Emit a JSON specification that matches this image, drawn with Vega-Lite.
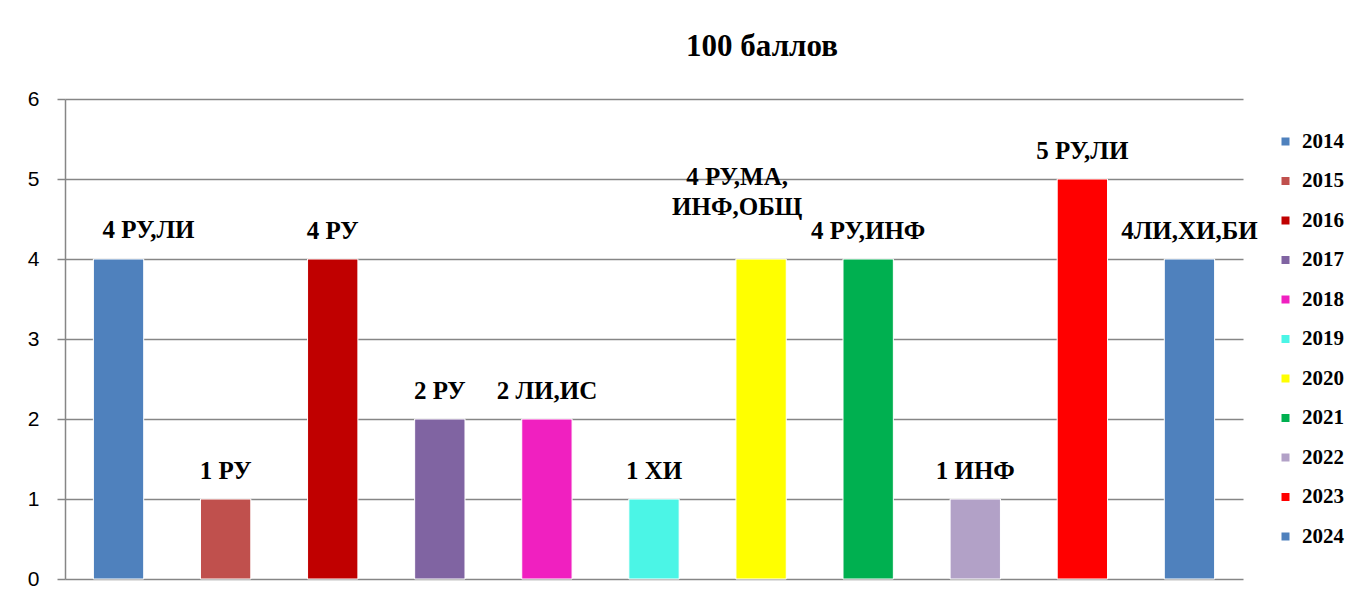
{
  "$schema": "https://vega.github.io/schema/vega-lite/v6.json",
  "autosize": "none",
  "width": 1178,
  "height": 480,
  "padding": {"left": 65, "top": 99, "right": 113, "bottom": 24},
  "background": "white",
  "title": {
    "text": "100 баллов",
    "font": "Liberation Serif, Times New Roman, serif",
    "fontSize": 31,
    "fontWeight": "bold",
    "color": "#000000",
    "anchor": "middle",
    "dx": 108,
    "offset": 25
  },
  "data": {
    "values": [
      {"year": "2014", "value": 4, "label": "4 РУ,ЛИ"},
      {"year": "2015", "value": 1, "label": "1 РУ"},
      {"year": "2016", "value": 4, "label": "4 РУ"},
      {"year": "2017", "value": 2, "label": "2 РУ"},
      {"year": "2018", "value": 2, "label": "2 ЛИ,ИС"},
      {"year": "2019", "value": 1, "label": "1 ХИ"},
      {"year": "2020", "value": 4, "label": "4 РУ,МА,\nИНФ,ОБЩ"},
      {"year": "2021", "value": 4, "label": "4 РУ,ИНФ"},
      {"year": "2022", "value": 1, "label": "1 ИНФ"},
      {"year": "2023", "value": 5, "label": "5 РУ,ЛИ"},
      {"year": "2024", "value": 4, "label": "4ЛИ,ХИ,БИ"}
    ]
  },
  "encoding": {
    "x": {
      "field": "year",
      "type": "nominal",
      "scale": {"paddingInner": 0.53, "paddingOuter": 0.265},
      "axis": null
    },
    "y": {
      "field": "value",
      "type": "quantitative",
      "scale": {"domain": [0, 6], "nice": false},
      "axis": {
        "title": null,
        "values": [0, 1, 2, 3, 4, 5, 6],
        "labelFont": "Liberation Sans, Arial, sans-serif",
        "labelFontSize": 21,
        "labelColor": "#000000",
        "labelPadding": 18,
        "tickSize": 8,
        "tickColor": "#868686",
        "tickWidth": 1.5,
        "domainColor": "#868686",
        "domainWidth": 1.5,
        "gridColor": "#868686",
        "gridWidth": 1.5,
        "grid": true
      }
    }
  },
  "layer": [
    {
      "mark": {"type": "bar", "stroke": "white", "strokeWidth": 1},
      "encoding": {
        "color": {
          "field": "year",
          "type": "nominal",
          "scale": {
            "domain": ["2014", "2015", "2016", "2017", "2018", "2019", "2020", "2021", "2022", "2023", "2024"],
            "range": ["#4F81BD", "#C0504D", "#C00000", "#8064A2", "#F020C0", "#4BF5E6", "#FFFF00", "#00B050", "#B2A1C7", "#FF0000", "#4F81BD"]
          },
          "legend": {
            "title": null,
            "orient": "none",
            "legendX": 1210,
            "legendY": 32,
            "symbolType": "square",
            "symbolSize": 64,
            "symbolStrokeWidth": 0,
            "labelFont": "Liberation Serif, Times New Roman, serif",
            "labelFontSize": 21,
            "labelFontWeight": "bold",
            "labelColor": "#000000",
            "labelOffset": 6,
            "rowPadding": 17.5
          }
        }
      }
    },
    {
      "transform": [{"filter": "datum.year != '2020' && datum.year != '2014'"}],
      "mark": {
        "type": "text",
        "baseline": "alphabetic",
        "dy": -20,
        "font": "Liberation Serif, Times New Roman, serif",
        "fontSize": 25,
        "fontWeight": "bold",
        "color": "#000000"
      },
      "encoding": {
        "text": {"field": "label"}
      }
    },
    {
      "transform": [{"filter": "datum.year == '2014'"}],
      "mark": {
        "type": "text",
        "baseline": "alphabetic",
        "dy": -21,
        "dx": 30,
        "font": "Liberation Serif, Times New Roman, serif",
        "fontSize": 25,
        "fontWeight": "bold",
        "color": "#000000"
      },
      "encoding": {
        "text": {"field": "label"}
      }
    },
    {
      "transform": [{"filter": "datum.year == '2020'"}],
      "mark": {
        "type": "text",
        "baseline": "alphabetic",
        "dy": -74,
        "dx": -24,
        "font": "Liberation Serif, Times New Roman, serif",
        "fontSize": 25,
        "fontWeight": "bold",
        "color": "#000000",
        "lineBreak": "\n",
        "lineHeight": 30
      },
      "encoding": {
        "text": {"field": "label"}
      }
    }
  ],
  "config": {
    "view": {"stroke": null}
  }
}
